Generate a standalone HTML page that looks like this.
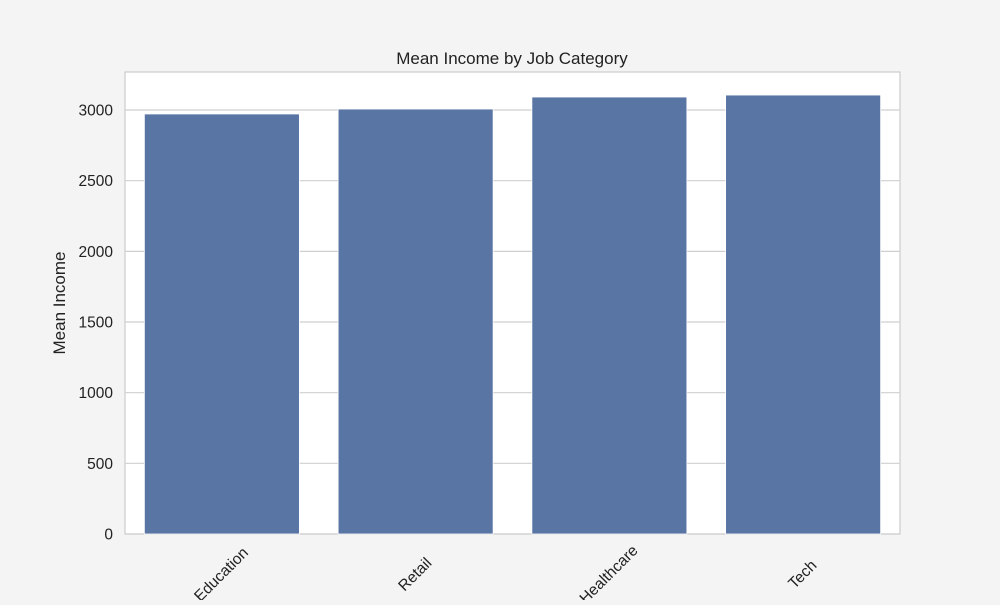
<!DOCTYPE html>
<html><head><meta charset="utf-8"><style>
body{margin:0;background:#f4f4f4;font-family:"Liberation Sans",sans-serif;}
</style></head><body>
<svg id="chart" width="1000" height="600" xmlns="http://www.w3.org/2000/svg">
<rect width="1000" height="600" fill="#f4f4f4"/>
<rect x="125" y="72" width="775" height="462" fill="#fff" stroke="#ccc" stroke-width="1.2"/>
<g id="grid"></g><g id="bars"></g><g id="ticks"></g>
<text x="512" y="64" text-anchor="middle" font-size="17" fill="#222">Mean Income by Job Category</text>
<text transform="translate(65,303) rotate(-90)" text-anchor="middle" font-size="17" fill="#222">Mean Income</text>
</svg>
<script>
const categories=["Education","Retail","Healthcare","Tech"];
const values=[2972,3007,3092,3106];
const yTicks=[0,500,1000,1500,2000,2500,3000];
const X0=125,W=775,Y0=534,H=462,YMAX=3269;
const ns="http://www.w3.org/2000/svg";
const y=v=>Y0-v/YMAX*H;
const band=W/categories.length;
function mk(t,a,p){const e=document.createElementNS(ns,t);for(const k in a)e.setAttribute(k,a[k]);p.appendChild(e);return e;}
const grid=document.getElementById('grid'),bars=document.getElementById('bars'),ticks=document.getElementById('ticks');
yTicks.forEach(t=>{
 const l=mk('line',{x1:X0,x2:X0+W,y1:y(t),y2:y(t),stroke:'#cfcfcf','stroke-width':1.2},grid);
 
 
 const tx=mk('text',{x:X0-12,y:y(t)+5.5,'text-anchor':'end','font-size':15.5,fill:'#222'},ticks);
 tx.textContent=t;
 
 
});
categories.forEach((c,i)=>{
 const cx=X0+band*(i+0.5),bw=band*0.8;
 const r=mk('rect',{x:cx-bw/2,y:y(values[i]),width:bw,height:Y0-y(values[i]),fill:'#5975a4',stroke:'#fff','stroke-width':0.8},bars);
 
 
 const ty=Y0+41;
 const tx=mk('text',{x:cx,y:ty,'text-anchor':'middle','dominant-baseline':'middle','font-size':15.5,fill:'#222',transform:`rotate(-45 ${cx} ${ty})`},ticks);
 tx.textContent=c;
 
 
});
</script>
</body></html>
